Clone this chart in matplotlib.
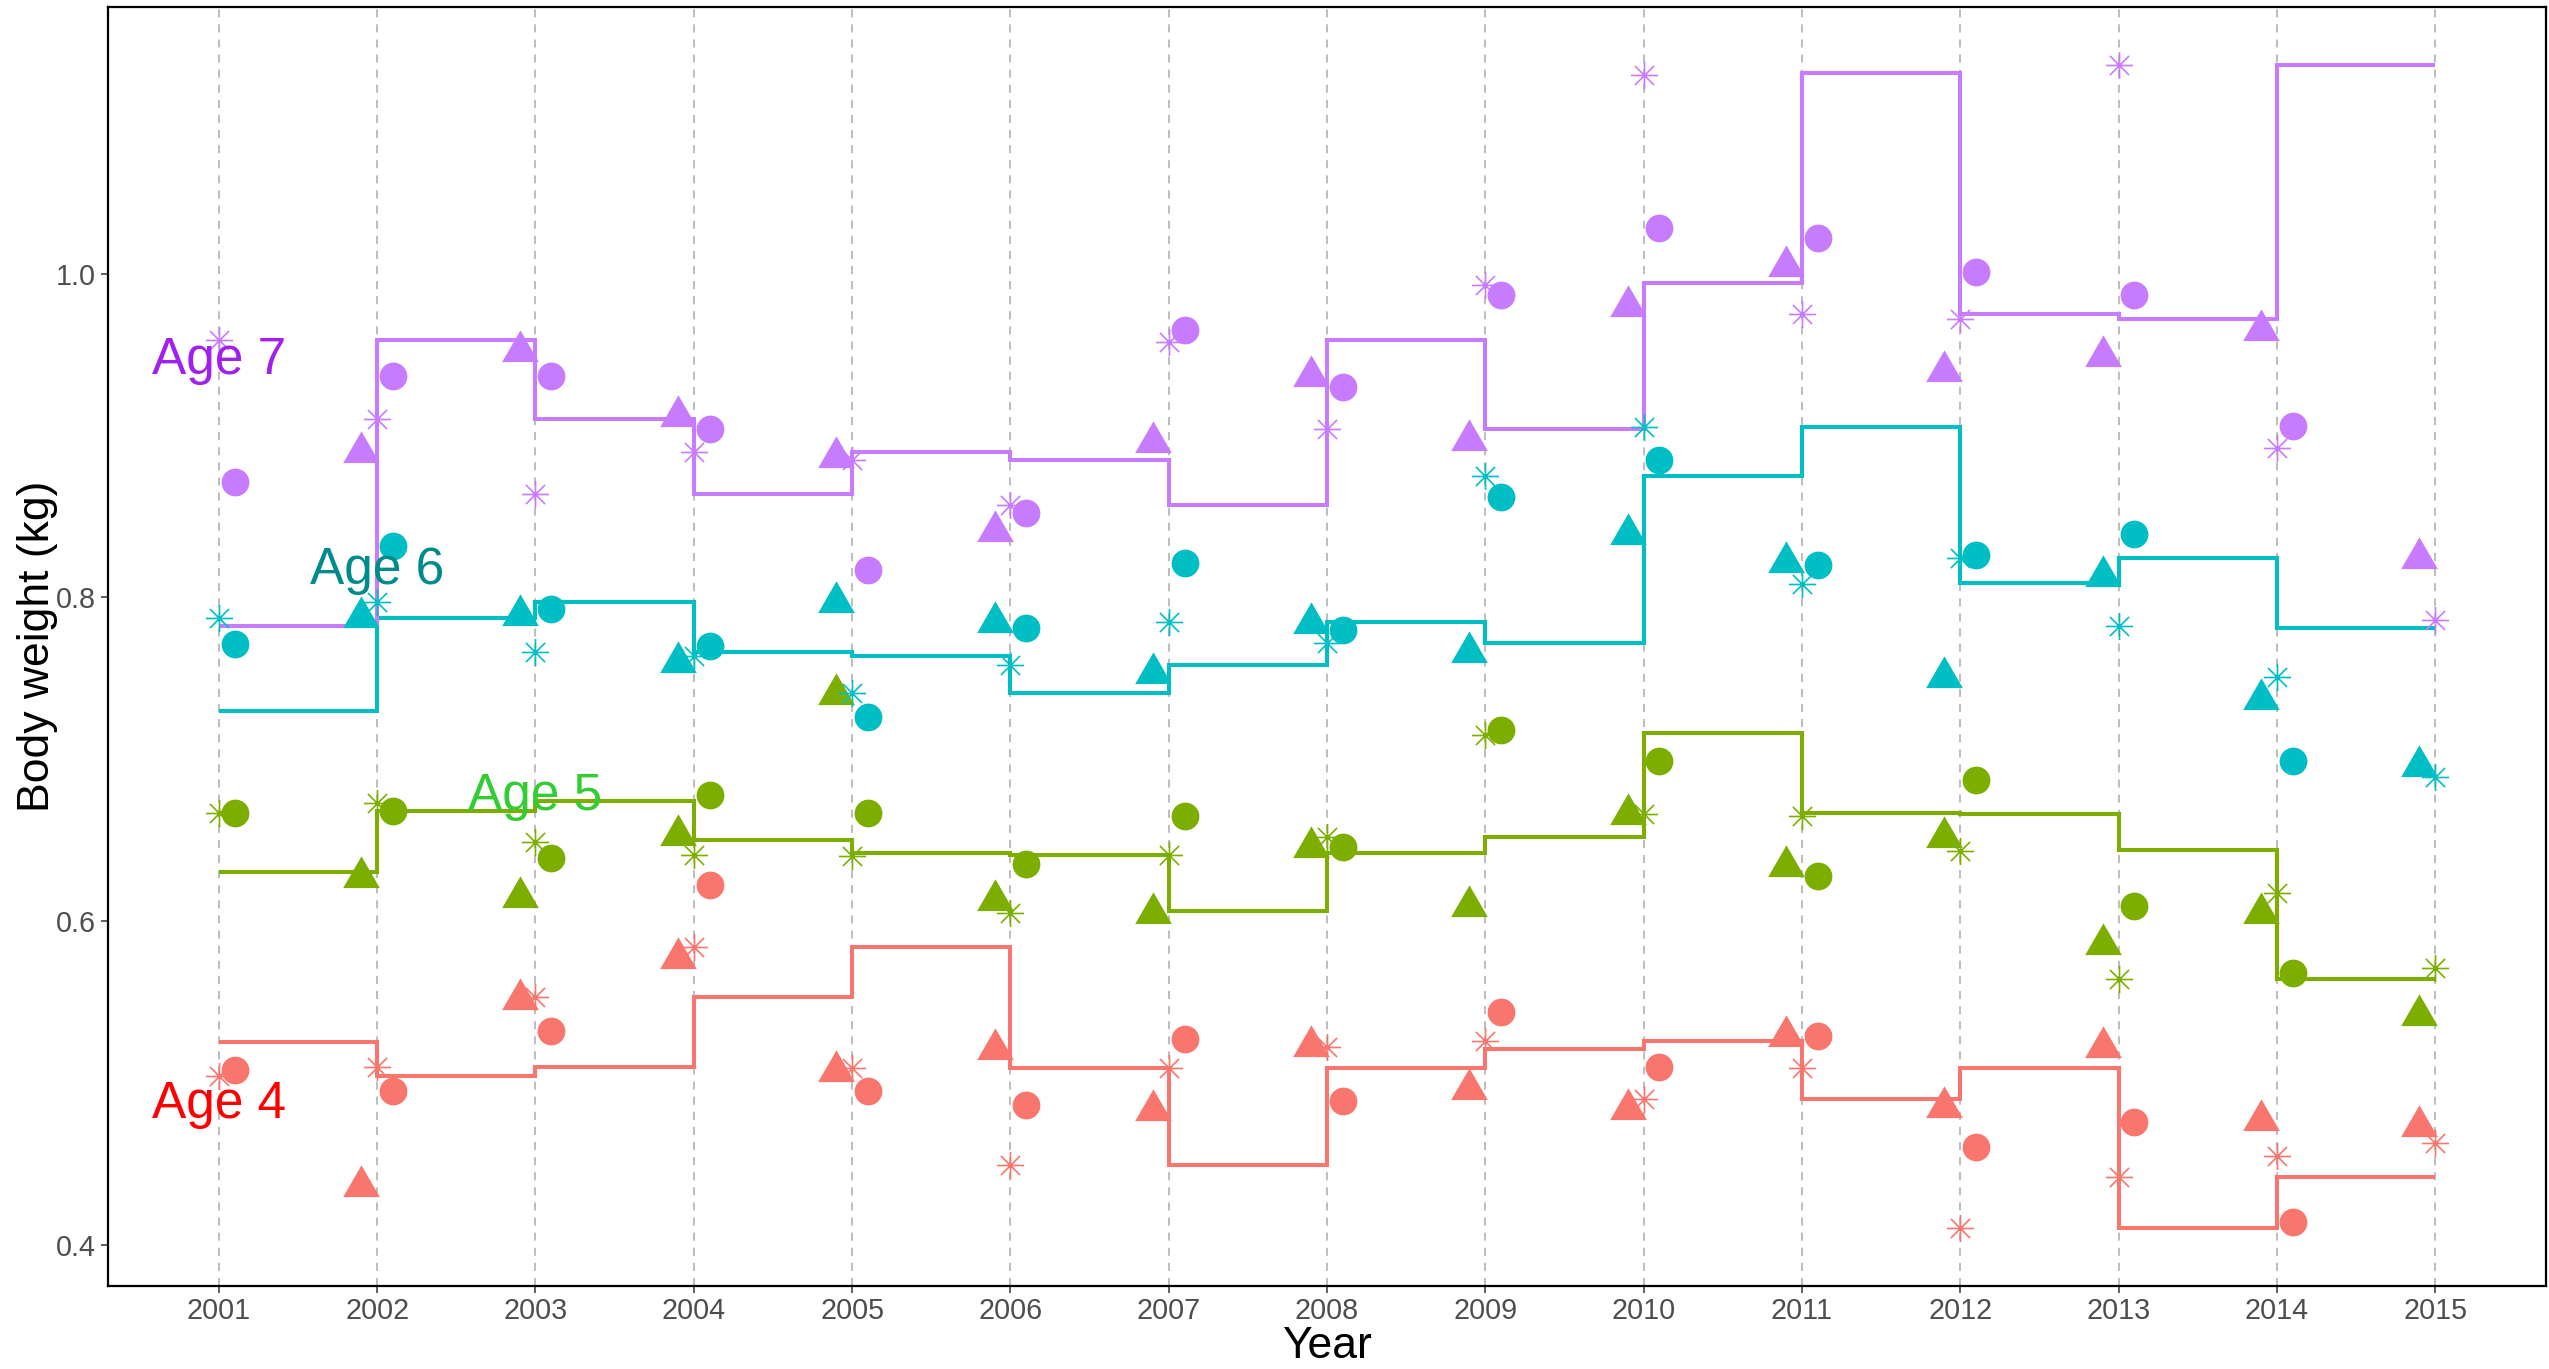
import numpy as np
import matplotlib
matplotlib.use("Agg")
import matplotlib.pyplot as plt
from matplotlib.path import Path

plt.rcParams['font.family'] = ['Liberation Sans', 'DejaVu Sans']

# years and age classes
years = np.arange(2001, 2016)
ages = ["Age 4", "Age 5", "Age 6", "Age 7"]
colours = ["#F8766D", "#7CAE00", "#00BFC4", "#C77CFF"]

# step line values, one per year interval 2001-2002 ... 2014-2015
step_age4 = [0.525, 0.504, 0.510, 0.553, 0.584, 0.509, 0.449, 0.509, 0.521, 0.526, 0.490, 0.509, 0.410, 0.442]
step_age5 = [0.630, 0.668, 0.674, 0.650, 0.642, 0.641, 0.606, 0.642, 0.652, 0.716, 0.667, 0.666, 0.644, 0.564]
step_age6 = [0.730, 0.787, 0.797, 0.766, 0.764, 0.741, 0.758, 0.785, 0.772, 0.875, 0.905, 0.809, 0.824, 0.781]
step_age7 = [0.782, 0.959, 0.910, 0.864, 0.890, 0.885, 0.857, 0.959, 0.904, 0.994, 1.124, 0.975, 0.972, 1.129]

# asterisks, on the year (2001 ... 2015)
star_age4 = [0.504, 0.510, 0.553, 0.584, 0.509, 0.449, 0.509, 0.522, 0.526, 0.490, 0.509, 0.410, 0.442, 0.455, 0.463]
star_age5 = [0.667, 0.673, 0.649, 0.641, 0.640, 0.605, 0.641, 0.652, 0.715, 0.666, 0.665, 0.643, 0.564, 0.617, 0.571]
star_age6 = [0.787, 0.797, 0.766, 0.764, 0.741, 0.758, 0.785, 0.772, 0.875, 0.905, 0.808, 0.824, 0.782, 0.751, 0.689]
star_age7 = [0.959, 0.910, 0.864, 0.890, 0.885, 0.857, 0.958, 0.904, 0.993, 1.123, 0.975, 0.972, 1.129, 0.892, 0.786]

# triangles, just before the year (2002 ... 2015)
tri_age4 = [0.436, 0.552, 0.577, 0.507, 0.521, 0.483, 0.523, 0.496, 0.484, 0.529, 0.485, 0.522, 0.477, 0.473]
tri_age5 = [0.627, 0.615, 0.653, 0.740, 0.613, 0.605, 0.646, 0.609, 0.666, 0.634, 0.652, 0.586, 0.605, 0.542]
tri_age6 = [0.788, 0.789, 0.760, 0.797, 0.785, 0.753, 0.784, 0.766, 0.839, 0.822, 0.751, 0.813, 0.737, 0.696]
tri_age7 = [0.890, 0.952, 0.912, 0.887, 0.841, 0.896, 0.937, 0.897, 0.980, 1.005, 0.940, 0.949, 0.965, 0.824]

# circles, just after the year (2001 ... 2014)
circ_age4 = [0.508, 0.495, 0.532, 0.622, 0.495, 0.486, 0.527, 0.489, 0.544, 0.510, 0.529, 0.460, 0.476, 0.414]
circ_age5 = [0.667, 0.668, 0.639, 0.678, 0.667, 0.635, 0.665, 0.646, 0.718, 0.699, 0.628, 0.687, 0.609, 0.568]
circ_age6 = [0.771, 0.832, 0.793, 0.770, 0.726, 0.781, 0.821, 0.780, 0.862, 0.885, 0.820, 0.826, 0.839, 0.699]
circ_age7 = [0.871, 0.937, 0.937, 0.904, 0.817, 0.852, 0.965, 0.930, 0.987, 1.028, 1.022, 1.001, 0.987, 0.906]

# labels
label_x = [2001, 2003, 2002, 2001]
label_y = [0.49, 0.68, 0.82, 0.95]
label_colours = ["#FF0000", "#32CD32", "#008B8B", "#A020F0"]

steps = [step_age4, step_age5, step_age6, step_age7]
stars = [star_age4, star_age5, star_age6, star_age7]
tris = [tri_age4, tri_age5, tri_age6, tri_age7]
circs = [circ_age4, circ_age5, circ_age6, circ_age7]

# asterisk marker (+ and x)
d = np.sqrt(0.5)
star_path = Path([(-1, 0), (1, 0), (0, -1), (0, 1), (-d, -d), (d, d), (-d, d), (d, -d)],
                 [Path.MOVETO, Path.LINETO] * 4)
tri_marker = [(0, 1), (-0.866, -0.5), (0.866, -0.5), (0, 1)]

fig = plt.figure(figsize=(25.49, 13.69), dpi=100)
ax = fig.add_axes([108 / 2549, 1 - 1285.5 / 1369, 2438 / 2549, 1278.8 / 1369])

for yr in years:
    ax.axvline(yr, color="#BEBEBE", linewidth=1.45, linestyle=(0, (4, 3.5)), zorder=0)

for i in range(4):
    c = colours[i]
    ax.stairs(steps[i], years, baseline=None, color=c, linewidth=2.9, zorder=2)
    ax.plot(years[1:] - 0.1, tris[i], linestyle="none", marker=tri_marker,
            markersize=30.5, color=c, markeredgewidth=0, zorder=3)
    ax.plot(years, stars[i], linestyle="none", marker=star_path, markersize=19.5,
            markeredgewidth=1.2, markerfacecolor="none", color=c, zorder=3)
    ax.plot(years[:-1] + 0.1, circs[i], linestyle="none", marker="o",
            markersize=20, color=c, markeredgewidth=0, zorder=3)

for i in range(4):
    ax.text(label_x[i], label_y[i], ages[i], color=label_colours[i], fontsize=37,
            ha="center", va="center_baseline", zorder=4)

ax.set_xlim(2000.3, 2015.7)
ax.set_ylim(0.3747, 1.165)
ax.set_xticks(years)
ax.set_xticklabels([str(y) for y in years])
ax.set_yticks([0.4, 0.6, 0.8, 1.0])
ax.set_yticklabels(["0.4", "0.6", "0.8", "1.0"])
ax.tick_params(axis="both", length=4.8, width=1.1, color="#333333",
               labelsize=20.7, labelcolor="#4D4D4D", pad=3.7)
for s in ax.spines.values():
    s.set_linewidth(1.6)
    s.set_color("black")

ax.set_xlabel("Year", fontsize=32, color="black")
ax.set_ylabel("Body weight (kg)", fontsize=32, color="black")
ax.xaxis.set_label_coords(0.5, -0.0317)
ax.yaxis.set_label_coords(-0.0204, 0.5)

fig.savefig("out.png", dpi=100)
